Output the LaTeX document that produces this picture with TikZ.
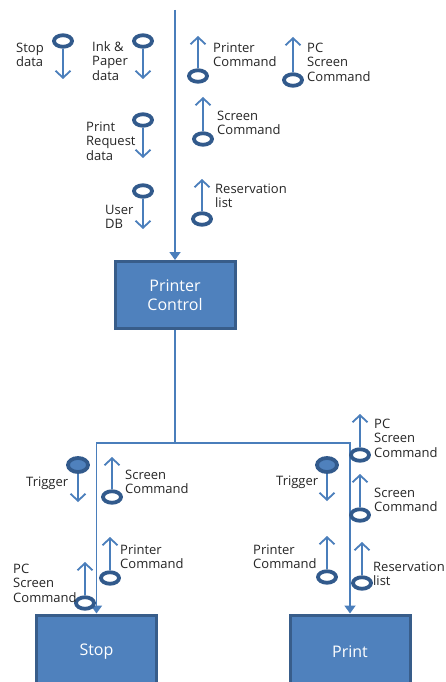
\documentclass[tikz,border=0pt]{standalone}
\usepackage{fontspec}
\setmainfont{Open Sans}
\usetikzlibrary{arrows.meta,shapes.geometric}
\definecolor{boxblue}{HTML}{4F81BD}
\definecolor{boxedge}{HTML}{385D8A}
\definecolor{lineblue}{HTML}{4A7EBB}
\definecolor{ringblue}{HTML}{325A8C}
\tikzset{
  procbox/.style={rectangle, fill=boxblue, draw=boxedge, line width=3pt, minimum width=120pt, text=white, font=\fontsize{16}{19}\selectfont, align=center, inner sep=0pt},
  conn/.style={draw=lineblue, line width=1.8pt},
  connarrow/.style={conn, -{Triangle[length=8pt,width=11pt]}},
  ring/.style={ellipse, draw=ringblue, line width=3.8pt, minimum width=18pt, minimum height=11.5pt, inner sep=0pt},
  ringfilled/.style={ring, fill=boxblue, minimum width=20pt, minimum height=14pt},
  flowarrow/.style={draw=lineblue, line width=1.8pt, -{Straight Barb[length=7pt,width=15pt,line width=1.8pt]}},
  lbl/.style={font=\fontsize{13}{14.5}\selectfont, align=left, inner sep=0pt, anchor=west, text=black!85}
}
\begin{document}
\begin{tikzpicture}[x=1pt,y=-1pt]
\clip (0,0) rectangle (445,682);
\fill[white] (0,0) rectangle (445,682);

% process boxes
\node[procbox, minimum height=67pt] (pc) at (175,295) {Printer\\Control};
\node[procbox, minimum height=74pt] (stop) at (96.5,652) {Stop};
\node[procbox, minimum height=74pt] (print) at (350,652) {Print};

% main connectors
\coordinate (top) at (175,10);
\coordinate (junc) at (175,443);
\draw[connarrow] (top) -- (pc.north);
\draw[conn] (pc.south) -- (junc);
\draw[connarrow] (junc) -| (stop.north);
\draw[connarrow] (junc) -| (print.north);

% ---- top-left data couples (down arrows)
\node[ring] (c1) at (63,41) {};
\coordinate (e1) at (63,79);
\draw[flowarrow] (c1.south) -- (e1);
\node[lbl] (l1) at (16,55) {Stop\\data};

\node[ring] (c2) at (143,41) {};
\coordinate (e2) at (143,79);
\draw[flowarrow] (c2.south) -- (e2);
\node[lbl] (l2) at (92,61) {Ink \&\\Paper\\data};

\node[ring] (c3) at (143,120) {};
\coordinate (e3) at (143,158);
\draw[flowarrow] (c3.south) -- (e3);
\node[lbl] (l3) at (86,141) {Print\\Request\\data};

\node[ring] (c4) at (143,191) {};
\coordinate (e4) at (143,229);
\draw[flowarrow] (c4.south) -- (e4);
\node[lbl] (l4) at (105,217) {User\\DB};

% ---- top-right data couples (up arrows)
\node[ring] (c5) at (198,76) {};
\coordinate (e5) at (198,36);
\draw[flowarrow] (c5.north) -- (e5);
\node[lbl] (l5) at (213,55) {Printer\\Command};

\node[ring] (c6) at (293,80) {};
\coordinate (e6) at (293,37);
\draw[flowarrow] (c6.north) -- (e6);
\node[lbl] (l6) at (307,62) {PC\\Screen\\Command};

\node[ring] (c7) at (203,139) {};
\coordinate (e7) at (203,97);
\draw[flowarrow] (c7.north) -- (e7);
\node[lbl] (l7) at (217,123) {Screen\\Command};

\node[ring] (c8) at (202,219) {};
\coordinate (e8) at (202,179);
\draw[flowarrow] (c8.north) -- (e8);
\node[lbl] (l8) at (215,196) {Reservation\\list};

% ---- bottom-left
\node[ringfilled] (c9) at (78,465) {};
\coordinate (e9) at (78,502);
\draw[flowarrow] (c9.south) -- (e9);
\node[lbl] (l9) at (26,483) {Trigger};

\node[ring] (c10) at (112,497) {};
\coordinate (e10) at (112,457);
\draw[flowarrow] (c10.north) -- (e10);
\node[lbl] (l10) at (125,482) {Screen\\Command};

\node[ring] (c11) at (110,578) {};
\coordinate (e11) at (110,537);
\draw[flowarrow] (c11.north) -- (e11);
\node[lbl] (l11) at (120,557) {Printer\\Command};

\node[ring] (c12) at (85,603) {};
\coordinate (e12) at (85,562);
\draw[flowarrow] (c12.north) -- (e12);
\node[lbl] (l12) at (13,583) {PC\\Screen\\Command};

% ---- bottom-right
\node[ring] (c13) at (360,455) {};
\coordinate (e13) at (360,414);
\draw[flowarrow] (c13.north) -- (e13);
\node[lbl] (l13) at (374,438) {PC\\Screen\\Command};

\node[ringfilled] (c14) at (327,465) {};
\coordinate (e14) at (327,501);
\draw[flowarrow] (c14.south) -- (e14);
\node[lbl] (l14) at (276,482) {Trigger};

\node[ring] (c15) at (360,515) {};
\coordinate (e15) at (360,474);
\draw[flowarrow] (c15.north) -- (e15);
\node[lbl] (l15) at (374,500) {Screen\\Command};

\node[ring] (c16) at (327,577) {};
\coordinate (e16) at (327,536);
\draw[flowarrow] (c16.north) -- (e16);
\node[lbl] (l16) at (253,557) {Printer\\Command};

\node[ring] (c17) at (362,583) {};
\coordinate (e17) at (362,542);
\draw[flowarrow] (c17.north) -- (e17);
\node[lbl] (l17) at (373,574) {Reservation\\list};
\end{tikzpicture}
\end{document}
